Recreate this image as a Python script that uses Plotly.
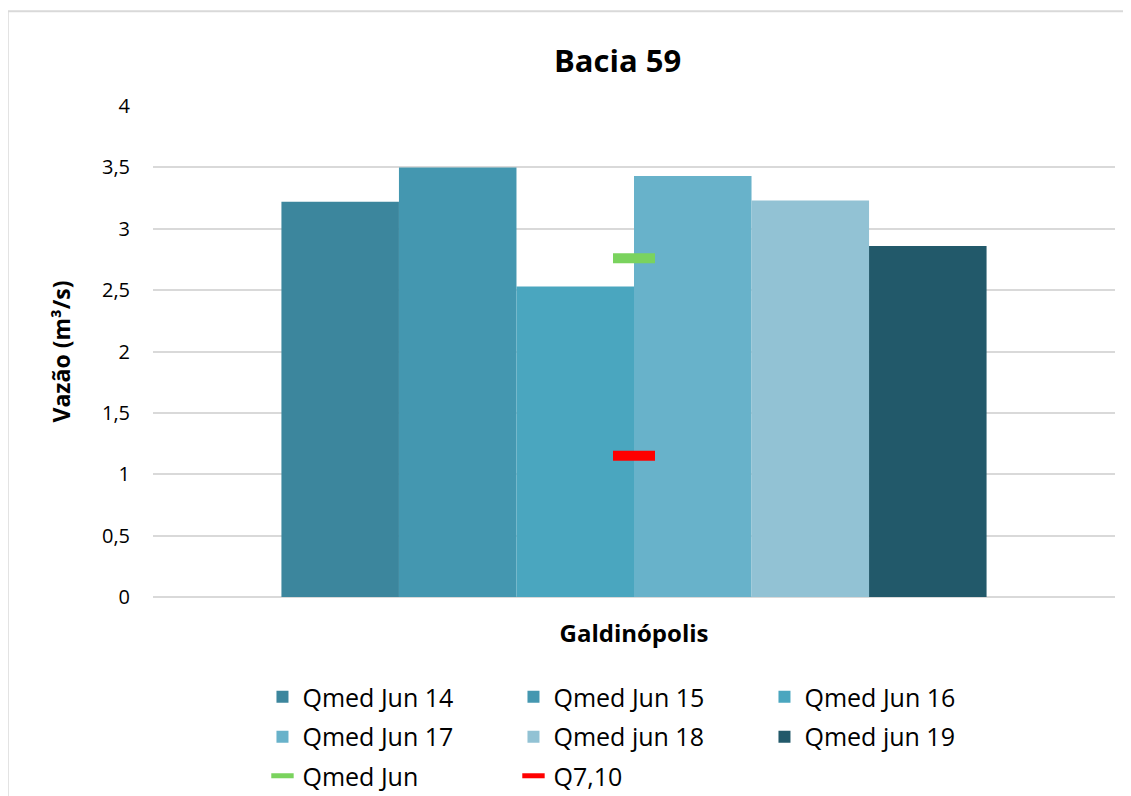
import plotly.graph_objects as go

# data
categories = ["Galdinópolis"]
series_names = ["Qmed Jun 14", "Qmed Jun 15", "Qmed Jun 16",
                "Qmed Jun 17", "Qmed jun 18", "Qmed jun 19"]
series_values = [3.22, 3.50, 2.53, 3.43, 3.23, 2.86]
series_colors = ["#3C869D", "#4497B0", "#4AA6BF", "#68B2CA", "#92C2D4", "#22596A"]

qmed_jun = [2.76]
q710 = [1.15]

font = "Open Sans, Liberation Sans, sans-serif"
# legend rows: 3 entries per row, like the original
legend_rows = ["legend", "legend", "legend", "legend2", "legend2", "legend2"]

fig = go.Figure()

for name, val, col, lg in zip(series_names, series_values, series_colors, legend_rows):
    fig.add_trace(go.Bar(x=categories, y=[val], name=name, legend=lg,
                         marker=dict(color=col, line=dict(width=0))))

# the two reference flows drawn as short horizontal dashes
fig.add_trace(go.Scatter(x=categories, y=qmed_jun, name="Qmed Jun", mode="markers",
                         legend="legend3",
                         marker=dict(symbol="line-ew", size=30,
                                     line=dict(color="#7AD35E", width=10))))
fig.add_trace(go.Scatter(x=categories, y=q710, name="Q7,10", mode="markers",
                         legend="legend3",
                         marker=dict(symbol="line-ew", size=30,
                                     line=dict(color="#FF0000", width=10))))


def leg(y):
    return dict(orientation="h", x=0.1138, xanchor="left", y=y, yanchor="middle",
                font=dict(size=25, color="#000000"),
                entrywidth=206, entrywidthmode="pixels", itemwidth=30,
                bgcolor="rgba(0,0,0,0)")


# the page has an 8px body margin, so margins are shifted to compensate
fig.update_layout(
    width=1131, height=796,
    margin=dict(l=145, r=24, t=98, b=207, autoexpand=False),
    paper_bgcolor="white", plot_bgcolor="white",
    separators=",.",
    font=dict(family=font, color="#000000"),
    title=dict(text="<b>Bacia 59</b>", x=0.539, xanchor="center",
               y=0.933, yanchor="middle", font=dict(size=31, color="#000000")),
    barmode="group", bargap=0.267, bargroupgap=0,
    showlegend=True,
    legend=leg(-0.2037),
    legend2=leg(-0.2851),
    legend3=leg(-0.3646),
    shapes=[
        dict(type="line", xref="paper", yref="paper",
             x0=-0.151, x1=1.03, y0=1.193, y1=1.193,
             line=dict(color="#D9D9D9", width=2)),
        dict(type="line", xref="paper", yref="paper",
             x0=-0.151, x1=-0.151, y0=1.193, y1=-0.45,
             line=dict(color="#D9D9D9", width=2)),
    ],
)

fig.update_xaxes(showgrid=False, showline=True, linecolor="#D9D9D9", linewidth=1,
                 tickfont=dict(size=24, color="#000000"),
                 tickprefix="<b>", ticksuffix="</b>",
                 ticks="", ticklabelstandoff=15)
fig.update_yaxes(range=[0, 4], dtick=0.5, showgrid=True, gridcolor="#D9D9D9",
                 gridwidth=1.5, zeroline=True, zerolinecolor="#D9D9D9",
                 zerolinewidth=1.5, showline=False,
                 tickfont=dict(size=20, color="#000000"), ticks="",
                 ticklabelstandoff=22,
                 title=dict(text="<b>Vazão (m³/s)</b>", standoff=24,
                            font=dict(size=23, color="#000000")))

fig.write_html("out.html")
